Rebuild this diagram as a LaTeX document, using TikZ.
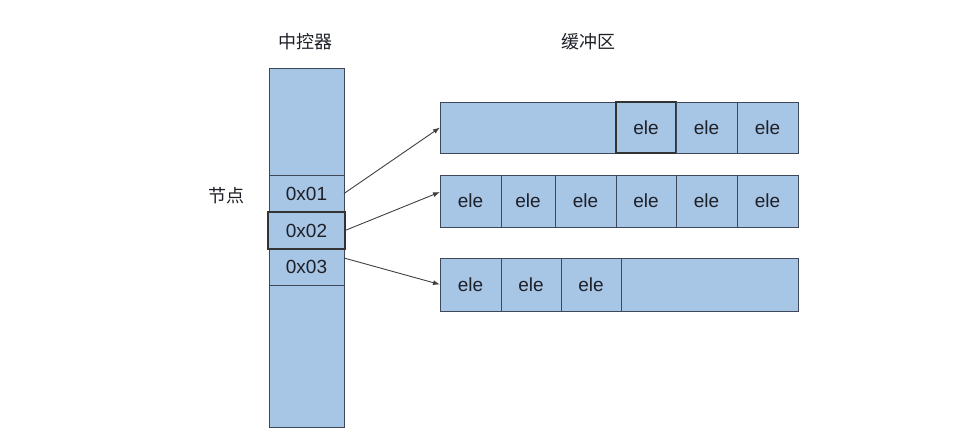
\documentclass[tikz,border=0pt]{standalone}
\usepackage{fontspec}
\usetikzlibrary{arrows.meta}
\setmainfont{Liberation Sans}
\newfontfamily\cjk{Noto Sans CJK SC}
\definecolor{cellfill}{RGB}{167,197,229}
\definecolor{celledge}{RGB}{62,72,88}
\definecolor{inktext}{RGB}{30,32,40}
\tikzset{
  cellbox/.style={draw=celledge, fill=cellfill, line width=1pt, inner sep=0pt, outer sep=0pt,
                  text=inktext, font=\fontsize{19}{22}\selectfont},
  selbox/.style={cellbox, line width=1.4pt, draw=black!80},
  toplabel/.style={text=inktext, font=\cjk\fontsize{18}{22}\selectfont},
  link/.style={-{Latex[length=7pt,width=5pt]}, line width=0.9pt, draw=black!75}
}
\begin{document}
\begin{tikzpicture}[x=1pt,y=-1pt]
                \useasboundingbox (0,0) rectangle (958,447);%
                
                % Labels
                \node [toplabel] (ctrl) at (305,42) {中控器};%
                \node [toplabel] (buf) at (588,42) {缓冲区};%
                \node [toplabel] (nodelbl) at (226,196) {节点};%
                
                % Controller column
                \node [cellbox, minimum width=75, minimum height=107] (ctop) at (306.5,121.5) {};%
                \node [cellbox, minimum width=75, minimum height=37] (c1) at (306.5,193.5) {0x01};%
                \node [cellbox, minimum width=75, minimum height=36] (c3) at (306.5,267) {0x03};%
                \node [cellbox, minimum width=75, minimum height=142] (cbot) at (306.5,356) {};%
                \node [selbox, minimum width=77, minimum height=37] (c2) at (306.5,230.5) {0x02};%
                
                % Buffer row 1
                \node [cellbox, minimum width=358, minimum height=51] (r1) at (619,127.5) {};%
                \node [selbox, minimum width=60, minimum height=51] (r1e1) at (646,127.5) {ele};%
                \node [cellbox, minimum width=61, minimum height=51] (r1e2) at (706.5,127.5) {ele};%
                \node [cellbox, minimum width=61, minimum height=51] (r1e3) at (767.5,127.5) {ele};%
                
                % Buffer row 2
                \node [cellbox, minimum width=358, minimum height=52] (r2) at (619,201) {};%
                \node [cellbox, minimum width=61, minimum height=52] (r2e1) at (470.5,201) {ele};%
                \node [cellbox, minimum width=54, minimum height=52] (r2e2) at (528,201) {ele};%
                \node [cellbox, minimum width=61, minimum height=52] (r2e3) at (585.5,201) {ele};%
                \node [cellbox, minimum width=60, minimum height=52] (r2e4) at (646,201) {ele};%
                \node [cellbox, minimum width=61, minimum height=52] (r2e5) at (706.5,201) {ele};%
                \node [cellbox, minimum width=61, minimum height=52] (r2e6) at (767.5,201) {ele};%
                
                % Buffer row 3
                \node [cellbox, minimum width=358, minimum height=53] (r3) at (619,284.5) {};%
                \node [cellbox, minimum width=61, minimum height=53] (r3e1) at (470.5,284.5) {ele};%
                \node [cellbox, minimum width=60, minimum height=53] (r3e2) at (531,284.5) {ele};%
                \node [cellbox, minimum width=60, minimum height=53] (r3e3) at (591,284.5) {ele};%
                
                % Pointers
                \coordinate (in2) at (440,192);%
                \draw [link] (c1.east) -- (r1.west);%
                \draw [link] (c2.east) -- (in2);%
                \draw [link] ([yshift=-9pt]c3.north east) -- (r3.west);%
\end{tikzpicture}
\end{document}
